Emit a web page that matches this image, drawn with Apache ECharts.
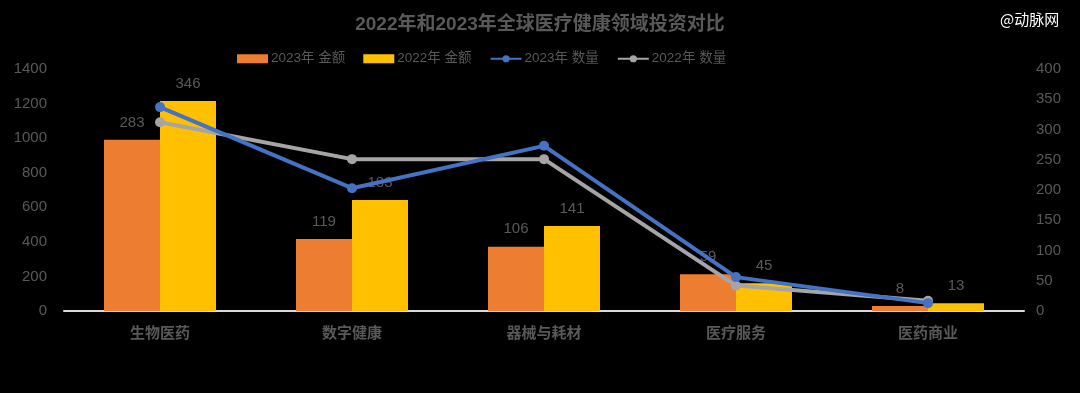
<!DOCTYPE html>
<html>
<head>
<meta charset="utf-8">
<script src="https://cdn.jsdelivr.net/npm/echarts@6/dist/echarts.min.js"></script>
<style>
html,body{margin:0;padding:0;background:#000;}
#chart{width:1080px;height:393px;}
</style>
</head>
<body>
<div id="chart"></div>
<script>
var categories = ['生物医药', '数字健康', '器械与耗材', '医疗服务', '医药商业'];
var amount2023 = [990, 416, 372, 212, 29];
var amount2022 = [1215, 642, 492, 160, 45];
var label2023 = [283, 119, 106, 59, 8];
var label2022 = [346, 183, 141, 45, 13];
var count2023 = [337, 203, 273, 56, 13];
var count2022 = [312, 251, 251, 42, 17];
var leftTicks = [0, 200, 400, 600, 800, 1000, 1200, 1400];
var rightTicks = [0, 50, 100, 150, 200, 250, 300, 350, 400];

var textColor = '#595959';
var font = '"Liberation Sans", "Noto Sans CJK SC", sans-serif';

var chart = echarts.init(document.getElementById('chart'));

function barLabel(labels) {
  return {
    show: true,
    position: 'top',
    distance: 10,
    color: textColor,
    fontSize: 15,
    fontFamily: font,
    formatter: function (p) { return labels[p.dataIndex]; }
  };
}

chart.setOption({
  backgroundColor: '#000000',
  animation: false,
  title: {
    text: '2022年和2023年全球医疗健康领域投资对比',
    left: 'center',
    top: 10,
    textStyle: { color: textColor, fontSize: 19, fontWeight: 'bold', fontFamily: font }
  },
  graphic: [{
    type: 'text',
    left: 1000,
    top: 12,
    style: { text: '@动脉网', fill: '#ffffff', fontSize: 15, fontFamily: '"Noto Sans CJK SC", sans-serif' }
  }],
  legend: {
    left: 232,
    top: 47,
    itemGap: 18,
    itemWidth: 31,
    itemHeight: 9,
    textStyle: { color: textColor, fontSize: 13.5, fontFamily: font, padding: [0, 0, 0, -2] },
    data: [
      { name: '2023年 金额', icon: 'rect' },
      { name: '2022年 金额', icon: 'rect' },
      { name: '2023年 数量' },
      { name: '2022年 数量' }
    ]
  },
  grid: { left: 64, right: 56, top: 69, bottom: 82 },
  xAxis: {
    type: 'category',
    data: categories,
    axisLine: { lineStyle: { color: '#D9D9D9', width: 2 } },
    axisTick: { show: false },
    axisLabel: { color: textColor, fontSize: 15, fontWeight: 'bold', margin: 14, fontFamily: '"Noto Sans CJK SC", sans-serif' }
  },
  yAxis: [{
    type: 'value',
    min: leftTicks[0],
    max: leftTicks[leftTicks.length - 1],
    interval: leftTicks[1] - leftTicks[0],
    splitLine: { show: false },
    axisLine: { show: false },
    axisTick: { show: false },
    axisLabel: { color: textColor, fontSize: 15, margin: 17, fontFamily: font, formatter: function (v) { return String(v); } }
  }, {
    type: 'value',
    min: rightTicks[0],
    max: rightTicks[rightTicks.length - 1],
    interval: rightTicks[1] - rightTicks[0],
    splitLine: { show: false },
    axisLine: { show: false },
    axisTick: { show: false },
    axisLabel: { color: textColor, fontSize: 15, margin: 12, fontFamily: font, formatter: function (v) { return String(v); } }
  }],
  series: [{
    name: '2023年 金额',
    type: 'bar',
    data: amount2023,
    barWidth: 56,
    barGap: '0%',
    itemStyle: { color: '#ED7D31' },
    label: barLabel(label2023),
    z: 2
  }, {
    name: '2022年 金额',
    type: 'bar',
    data: amount2022,
    barWidth: 56,
    barGap: '0%',
    itemStyle: { color: '#FFC000' },
    label: barLabel(label2022),
    z: 2
  }, {
    name: '2023年 数量',
    type: 'line',
    yAxisIndex: 1,
    data: count2023,
    symbol: 'circle',
    symbolSize: 10,
    lineStyle: { color: '#4472C4', width: 4 },
    itemStyle: { color: '#4472C4' },
    z: 5
  }, {
    name: '2022年 数量',
    type: 'line',
    yAxisIndex: 1,
    data: count2022,
    symbol: 'circle',
    symbolSize: 10,
    lineStyle: { color: '#A5A5A5', width: 4 },
    itemStyle: { color: '#A5A5A5' },
    z: 4
  }]
});
</script>
</body>
</html>
